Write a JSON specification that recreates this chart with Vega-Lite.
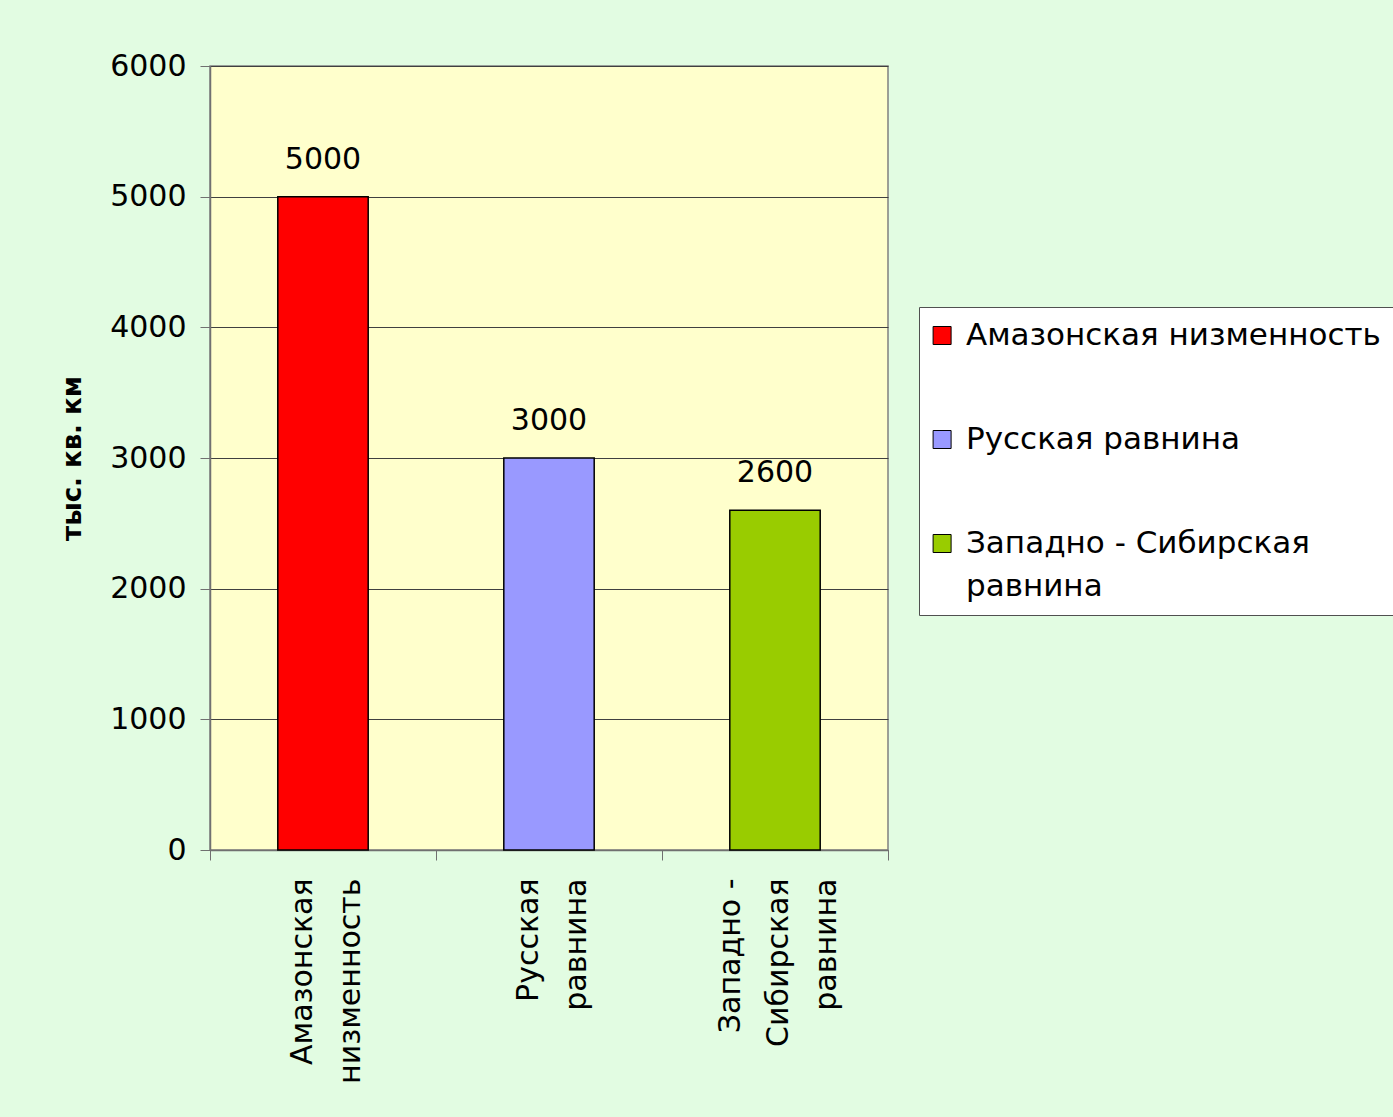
{
  "$schema": "https://vega.github.io/schema/vega-lite/v6.json",
  "width": 678,
  "height": 784,
  "autosize": {"type": "none"},
  "padding": {"left": 210, "top": 66, "right": 505, "bottom": 267},
  "background": "#E2FCE2",
  "config": {
    "font": "DejaVu Sans",
    "view": {"fill": "#FFFFCC", "stroke": "#808080", "strokeWidth": 1.5},
    "style": {"guide-label": {"lineHeight": 43}}
  },
  "data": {
    "values": [
      {"region": "Амазонская низменность", "area": 5000},
      {"region": "Русская равнина", "area": 3000},
      {"region": "Западно - Сибирская равнина", "area": 2600}
    ]
  },
  "encoding": {
    "x": {
      "field": "region",
      "type": "nominal",
      "sort": null,
      "scale": {"paddingInner": 0, "paddingOuter": 0},
      "axis": {
        "title": null,
        "labelAngle": -90,
        "labelFontSize": 30,
        "labelColor": "#000000",
        "labelLineHeight": 48,
        "labelPadding": 18,
        "labelLimit": 500,
        "labelOffset": {"condition": {"test": "datum.value == 'Западно - Сибирская равнина'", "value": -45}, "value": -21},
        "tickBand": "extent",
        "tickSize": 10,
        "tickColor": "#707070",
        "domainColor": "#707070",
        "domainWidth": 1.5,
        "labelExpr": "datum.label == 'Амазонская низменность' ? ['Амазонская', 'низменность'] : datum.label == 'Русская равнина' ? ['Русская', 'равнина'] : datum.label == 'Западно - Сибирская равнина' ? ['Западно -', 'Сибирская', 'равнина'] : ''"
      }
    },
    "y": {
      "field": "area",
      "type": "quantitative",
      "scale": {"domain": [0, 6000]},
      "axis": {
        "values": [0, 1000, 2000, 3000, 4000, 5000, 6000],
        "format": "d",
        "title": "тыс. кв. км",
        "titleFontSize": 26,
        "titleFontWeight": "bold",
        "titleColor": "#000000",
        "titlePadding": 24,
        "labelFontSize": 30,
        "labelColor": "#000000",
        "labelPadding": 14,
        "tickSize": 10,
        "tickColor": "#707070",
        "domainColor": "#707070",
        "domainWidth": 1.5,
        "gridColor": "#404040",
        "gridWidth": 1
      }
    }
  },
  "layer": [
    {
      "mark": {"type": "bar", "width": {"band": 0.4}, "stroke": "#000000", "strokeWidth": 1.5},
      "encoding": {
        "color": {
          "field": "region",
          "type": "nominal",
          "sort": null,
          "scale": {
            "domain": ["Амазонская низменность", "Русская равнина", "Западно - Сибирская равнина"],
            "range": ["#FF0000", "#9999FF", "#99CC00"]
          },
          "legend": {
            "title": null,
            "orient": "none",
            "legendX": 709,
            "legendY": 241,
            "labelFontSize": 31,
            "labelColor": "#000000",
            "labelLimit": 500,
            "labelOffset": 3,
            "labelBaseline": "middle",
            "symbolType": "M-1.6,-1H0.4V1H-1.6Z",
            "symbolSize": 324,
            "symbolStrokeColor": "#000000",
            "symbolStrokeWidth": 1,
            "fillColor": "#FFFFFF",
            "strokeColor": "#505050",
            "padding": 13,
            "rowPadding": 72,
            "labelExpr": "datum.label == 'Западно - Сибирская равнина' ? ['Западно - Сибирская', 'равнина'] : datum.label"
          }
        }
      }
    },
    {
      "mark": {"type": "text", "baseline": "bottom", "dy": -22, "fontSize": 30, "color": "#000000"},
      "encoding": {"text": {"field": "area", "type": "quantitative"}}
    }
  ]
}
